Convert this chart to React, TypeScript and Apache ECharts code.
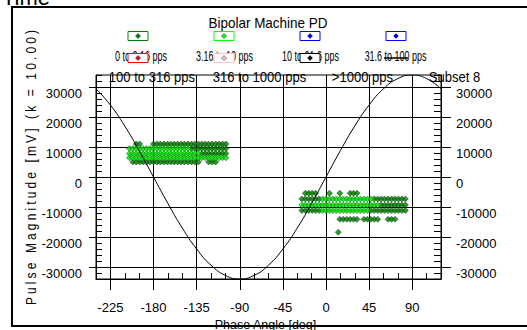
import React, { useEffect, useRef } from "react";
import * as echarts from "echarts";

// Text faces; the trailing token on SPACED hooks the letter-spacing rule below.
const SANS = '"Liberation Sans", Arial, sans-serif';
const SPACED = SANS + ", spacedWide";

const xTicks = [-225, -180, -135, -90, -45, 0, 45, 90];
const yTicks = [-30000, -20000, -10000, 0, 10000, 20000, 30000];

const legendNames = [
  "0 to 3.16 pps",
  "3.16 to 10 pps",
  "10 to 31.6 pps",
  "31.6 to 100 pps",
  "100 to 316 pps",
  "316 to 1000 pps",
  ">1000 pps",
  "Subset 8",
];
const legendColors = ["#008000", "#00ff00", "#0000ff", "#0000ff", "#ff0000", "#ffc0c0", "#000000", "#000000"];

// Reference voltage wave, phase [deg] and magnitude [mV]
const refPhase = [-240, -225, -210, -195, -180, -165, -150, -135, -120, -105, -90, -75, -60, -45, -30, -15, 0, 15, 30, 45, 60, 75, 90, 105, 120];
const refMagnitude = [29400, 24000, 17000, 8800, 0, -8800, -17000, -24000, -29400, -32800, -34000, -32800, -29400, -24000, -17000, -8800, 0, 8800, 17000, 24000, 29400, 32800, 34000, 32800, 29400];

const row = (magnitude: number, phases: number[]) => phases.map((p) => [p, magnitude]);

// Pulses at 0 to 3.16 pps
const lowRatePulses = [
  ...row(11000, [-198, -194.4, -180, -176.4, -172.8, -169.2, -165.6, -162, -158.4, -154.8, -151.2, -147.6, -144, -140.4, -136.8, -133.2, -129.6, -126, -122.4, -118.8, -115.2, -111.6, -108, -104.4]),
  ...row(9500, [-140.4, -136.8, -133.2, -129.6, -126, -122.4, -118.8, -115.2, -111.6, -108, -104.4]),
  ...row(7800, [-129.6, -126, -122.4, -118.8, -115.2, -111.6, -108, -104.4]),
  ...row(5000, [-201.6, -198, -194.4, -190.8, -187.2, -183.6, -180, -176.4, -172.8, -169.2, -165.6, -162, -158.4, -154.8, -151.2, -147.6, -144, -140.4, -136.8, -133.2, -122.4, -118.8, -115.2]),
  ...row(-5400, [-21.6, -18, -14.4, -10.8, 3.6, 14.4, 25.2, 28.8, 32.4]),
  ...row(-7300, [-25.2, -21.6, -18, -14.4, -10.8, -7.2, 50.4, 54, 57.6, 61.2, 64.8, 68.4, 72, 75.6, 79.2, 82.8]),
  ...row(-9300, [57.6, 61.2, 64.8, 68.4, 72, 75.6, 79.2, 82.8]),
  ...row(-11200, [-25.2, -21.6, -18, -14.4, -10.8, -7.2, 46.8, 50.4, 54, 57.6, 61.2, 64.8, 68.4, 72, 75.6, 79.2, 82.8]),
  ...row(-14100, [14.4, 18, 21.6, 25.2, 28.8, 32.4, 39.6, 43.2, 46.8, 50.4, 54, 64.8, 68.4, 72]),
  ...row(-18400, [12.8]),
];

// Pulses at 3.16 to 10 pps
const midRatePulses = [
  ...row(9500, [-205.2, -201.6, -198, -194.4, -190.8, -187.2, -183.6, -180, -176.4, -172.8, -169.2, -165.6, -162, -158.4, -154.8, -151.2, -147.6, -144]),
  ...row(7800, [-205.2, -201.6, -198, -194.4, -190.8, -187.2, -183.6, -180, -176.4, -172.8, -169.2, -165.6, -162, -158.4, -154.8, -151.2, -147.6, -144, -140.4, -136.8, -133.2]),
  ...row(6400, [-205.2, -201.6, -198, -194.4, -190.8, -187.2, -183.6, -180, -176.4, -172.8, -169.2, -165.6, -162, -158.4, -154.8, -151.2, -147.6, -144, -140.4, -136.8, -133.2, -129.6, -126, -122.4, -118.8, -115.2, -111.6, -108, -104.4]),
  ...row(-7300, [-3.6, 0, 3.6, 7.2, 10.8, 14.4, 18, 21.6, 25.2, 28.8, 32.4, 36, 39.6, 43.2, 46.8]),
  ...row(-9300, [-25.2, -21.6, -18, -14.4, -10.8, -7.2, -3.6, 0, 3.6, 7.2, 10.8, 14.4, 18, 21.6, 25.2, 28.8, 32.4, 36, 39.6, 43.2, 46.8, 50.4, 54]),
  ...row(-11200, [-3.6, 0, 3.6, 7.2, 10.8, 14.4, 18, 21.6, 25.2, 28.8, 32.4, 36, 39.6, 43.2]),
];

// Legend layout: icons above, names below, in two bands of four
const iconCenters = [138, 224, 310, 396];
const iconRows = [36, 58];
const upperLabelCenters = [141, 224.5, 310.5, 395.5];
const lowerLabelCenters = [152, 259.5, 362.5, 454.5];

function legendGraphics() {
  const items: any[] = [];
  legendNames.forEach((name, i) => {
    const upper = i < 4;
    const col = i % 4;
    items.push({
      type: "text",
      x: upper ? upperLabelCenters[col] : lowerLabelCenters[col],
      y: upper ? 55.5 : 76.5,
      scaleX: upper ? 0.64 : 0.87,
      z: 1,
      style: {
        text: name,
        align: "center",
        verticalAlign: "middle",
        fontSize: upper ? 14 : 15,
        fontFamily: SANS,
        fill: "#000",
      },
    });
  });
  legendColors.forEach((color, i) => {
    const cx = iconCenters[i % 4];
    const cy = iconRows[Math.floor(i / 4)];
    const isLine = i === legendColors.length - 1;
    if (isLine) {
      items.push({
        type: "line",
        z: 20,
        shape: { x1: cx - 12, y1: cy, x2: cx + 12, y2: cy },
        style: { stroke: color, lineWidth: 1.5 },
      });
    } else {
      items.push({
        type: "rect",
        z: 20,
        shape: { x: cx - 10, y: cy - 4.5, width: 20, height: 9 },
        style: { fill: "#fff", stroke: color, lineWidth: 1 },
      });
      items.push({
        type: "polygon",
        z: 21,
        shape: { points: [[cx, cy - 2.5], [cx + 2.5, cy], [cx, cy + 2.5], [cx - 2.5, cy]] },
        style: { fill: color, stroke: "#000", lineWidth: 0.4 },
      });
    }
  });
  return items;
}

export default function App() {
  const ref = useRef<HTMLDivElement>(null);

  useEffect(() => {
    if (!ref.current) return;
    const chart = echarts.init(ref.current, undefined, { renderer: "svg" });

    const tickFont = { color: "#000", fontFamily: SANS, fontSize: 13, formatter: (v: number) => String(v) };
    const black = { color: "#000", width: 1 };

    chart.setOption({
      animation: false,
      backgroundColor: "#fff",
      grid: {
        left: 96,
        top: 75,
        width: 345,
        height: 204,
        show: true,
        borderColor: "#000",
        borderWidth: 1,
        containLabel: false,
        outerBoundsMode: "none",
      },
      xAxis: [
        {
          type: "value",
          min: -240,
          max: 120,
          position: "bottom",
          axisLine: { show: true, onZero: false, lineStyle: black },
          axisTick: { show: true, customValues: xTicks, length: 11, lineStyle: black },
          axisLabel: { customValues: xTicks, margin: 22, ...tickFont },
          splitLine: { show: true, lineStyle: black },
          name: "Phase Angle [deg]",
          nameLocation: "middle",
          nameGap: 36,
          nameTextStyle: { color: "#000", fontFamily: SANS, fontSize: 12.5, padding: [0, 6, 0, 0] },
        },
        {
          type: "value",
          min: -240,
          max: 120,
          interval: 15,
          position: "bottom",
          axisLine: { show: false, onZero: false },
          axisTick: { show: true, inside: true, length: 6, lineStyle: black },
          axisLabel: { show: false },
          splitLine: { show: false },
        },
      ],
      yAxis: [
        {
          type: "value",
          min: -34000,
          max: 34000,
          position: "left",
          axisLine: { show: true, onZero: false, lineStyle: black },
          axisTick: { show: true, customValues: yTicks, length: 7, lineStyle: black },
          axisLabel: { customValues: yTicks, margin: 14, verticalAlign: "top", ...tickFont },
          splitLine: { show: true, lineStyle: black },
        },
        {
          type: "value",
          min: -34000,
          max: 34000,
          interval: 2000,
          position: "left",
          axisLine: { show: false, onZero: false },
          axisTick: { show: true, inside: true, length: 6, lineStyle: black },
          axisLabel: { show: false },
          splitLine: { show: false },
        },
        {
          type: "value",
          min: -34000,
          max: 34000,
          position: "right",
          axisLine: { show: true, onZero: false, lineStyle: black },
          axisTick: { show: true, customValues: yTicks, length: 10, lineStyle: black },
          axisLabel: { customValues: yTicks, margin: 15, verticalAlign: "top", ...tickFont },
          splitLine: { show: false },
        },
        {
          type: "value",
          min: -34000,
          max: 34000,
          interval: 2000,
          position: "right",
          axisLine: { show: false, onZero: false },
          axisTick: { show: true, inside: true, length: 7, lineStyle: black },
          axisLabel: { show: false },
          splitLine: { show: false },
        },
      ],
      series: [
        {
          name: legendNames[0],
          type: "scatter",
          symbol: "diamond",
          symbolSize: 6,
          itemStyle: { color: "#008000", borderColor: "#003300", borderWidth: 0.6 },
          data: lowRatePulses,
          z: 2,
        },
        {
          name: legendNames[1],
          type: "scatter",
          symbol: "diamond",
          symbolSize: 6,
          itemStyle: { color: "#00e000", borderColor: "#006000", borderWidth: 0.6 },
          data: midRatePulses,
          z: 2,
        },
        {
          name: legendNames[7],
          type: "line",
          smooth: true,
          showSymbol: false,
          lineStyle: { color: "#000", width: 1 },
          data: refPhase.map((p, i) => [p, refMagnitude[i]]),
          z: 4,
        },
      ],
      graphic: [
        {
          type: "text",
          x: 2,
          y: -3,
          style: { text: "Time", fontSize: 22, fontFamily: SANS, fill: "#000", verticalAlign: "middle" },
        },
        {
          type: "text",
          x: 268,
          y: 22.4,
          scaleX: 0.9,
          style: { text: "Bipolar Machine PD", align: "center", verticalAlign: "middle", fontSize: 15, fontFamily: SANS, fill: "#000" },
        },
        {
          type: "text",
          x: 31,
          y: 166,
          rotation: Math.PI / 2,
          scaleX: 0.8,
          style: {
            text: "Pulse Magnitude [mV] (k = 10.00)",
            align: "center",
            verticalAlign: "middle",
            fontSize: 15,
            fontFamily: SPACED,
            fill: "#000",
          },
        },
        ...legendGraphics(),
        {
          type: "rect",
          z: 50,
          shape: { x: 12, y: 7, width: 530, height: 319 },
          style: { fill: "none", stroke: "#000", lineWidth: 2 },
        },
      ],
    });

    return () => chart.dispose();
  }, []);

  return (
    <>
      <style>{`text[style*="spacedWide"] { letter-spacing: 3.9px; }`}</style>
      <div ref={ref} style={{ position: "fixed", left: 0, top: 0, width: 527, height: 330 }} />
    </>
  );
}
